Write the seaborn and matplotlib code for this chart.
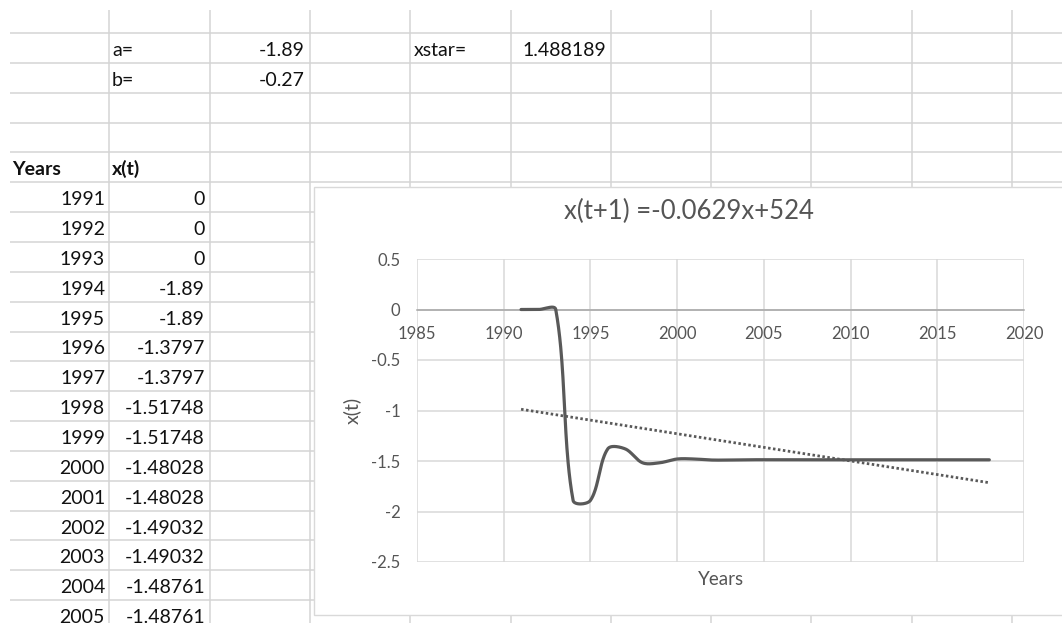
import numpy as np
import pandas as pd
import matplotlib
matplotlib.use("Agg")
import matplotlib.pyplot as plt
from matplotlib.patches import Rectangle
from matplotlib.ticker import MultipleLocator, FuncFormatter
import seaborn as sns

# ---------------- data ----------------
param_labels = ["a=", "b="]
param_values = [-1.89, -0.27]
xstar_label = "xstar="
xstar_value = 1.488189

years = [1991, 1992, 1993, 1994, 1995, 1996, 1997, 1998, 1999, 2000,
         2001, 2002, 2003, 2004, 2005, 2006, 2007, 2008, 2009, 2010,
         2011, 2012, 2013, 2014, 2015, 2016, 2017, 2018]
x_t = [0, 0, 0, -1.89, -1.89, -1.3797, -1.3797, -1.51748, -1.51748, -1.48028,
       -1.48028, -1.49032, -1.49032, -1.48761, -1.48761, -1.48834, -1.48834, -1.48815, -1.48815, -1.4882,
       -1.4882, -1.48819, -1.48819, -1.48819, -1.48819, -1.48819, -1.48819, -1.48819]

chart_title = "x(t+1) =-0.0629x+524"
x_label = "Years"
y_label = "x(t)"
col_headers = ["Years", "x(t)"]

df = pd.DataFrame({"Years": years, "x": x_t})

# ---------------- style ----------------
sns.set_theme(style="white")
plt.rcParams["font.family"] = ["Lato", "DejaVu Sans"]

W, H = 1062, 623
fig = plt.figure(figsize=(W / 100, H / 100), dpi=100)
fig.patch.set_facecolor("white")

# ---------------- spreadsheet background (pixel coordinates) ----------------
bg = fig.add_axes([0, 0, 1, 1])
bg.set_xlim(0, W)
bg.set_ylim(H, 0)
bg.axis("off")

grid_c = "#D4D4D4"
col_edges = [109, 210, 310, 410, 511, 611, 711, 811, 912, 1012]
row_h = 29.85
row_edges = [33 + row_h * k for k in range(20)]
bg.vlines(col_edges, 10, H, color=grid_c, lw=1.1, zorder=1)
bg.hlines(row_edges, 10, W, color=grid_c, lw=1.1, zorder=1)

cell_fs = 14
txt_c = "#111111"

def base(row_top):
    return row_top + 23

# parameter rows
for k, (lab, val) in enumerate(zip(param_labels, param_values)):
    top = row_edges[k]
    bg.text(112, base(top), lab, fontsize=cell_fs, color=txt_c, va="baseline", ha="left")
    bg.text(305, base(top), f"{val:g}", fontsize=cell_fs, color=txt_c, va="baseline", ha="right")
bg.text(414, base(row_edges[0]), xstar_label, fontsize=cell_fs, color=txt_c, va="baseline", ha="left")
bg.text(606, base(row_edges[0]), f"{xstar_value}", fontsize=cell_fs, color=txt_c, va="baseline", ha="right")

# header row
bg.text(12, base(row_edges[4]), col_headers[0], fontsize=cell_fs, color=txt_c, va="baseline",
        ha="left", fontweight="bold")
bg.text(112, base(row_edges[4]), col_headers[1], fontsize=cell_fs, color=txt_c, va="baseline",
        ha="left", fontweight="bold")

# data rows (only those visible on screen)
for k, (yr, v) in enumerate(zip(years, x_t)):
    top = row_edges[5] + row_h * k
    if top > H - 12:
        break
    bg.text(105, base(top), str(yr), fontsize=cell_fs, color=txt_c, va="baseline", ha="right")
    bg.text(205, base(top), f"{v:.6g}", fontsize=cell_fs, color=txt_c, va="baseline", ha="right")

# chart frame
bg.add_patch(Rectangle((314, 187), 750, 428, facecolor="white", edgecolor="#D9D9D9",
                       lw=1.0, zorder=5))

# ---------------- chart ----------------
pl, pr, pt, pb = 417, 1024, 259, 562
ax = fig.add_axes([pl / W, 1 - pb / H, (pr - pl) / W, (pb - pt) / H])
ax.set_facecolor("white")
ax.set_xlim(1985, 2020)
ax.set_ylim(-2.5, 0.5)
ax.xaxis.set_major_locator(MultipleLocator(5))
ax.yaxis.set_major_locator(MultipleLocator(0.5))
ax.yaxis.set_major_formatter(FuncFormatter(lambda v, p: f"{v:g}".replace("\u2212", "-")))
ax.grid(True, color="#D9D9D9", lw=1.1)
ax.set_axisbelow(True)
for s in ["top", "right", "left"]:
    ax.spines[s].set_visible(False)
ax.spines["bottom"].set_position(("data", 0))
ax.spines["bottom"].set_color("#A6A6A6")
ax.spines["bottom"].set_linewidth(1.1)
ax.tick_params(axis="x", length=0, pad=12, labelsize=12, labelcolor="#555555")
ax.tick_params(axis="y", length=0, pad=12, labelsize=12, labelcolor="#555555")

# smoothed line (Excel-like Bezier smoothing computed in display space)
def excel_smooth(xd, yd):
    P = ax.transData.transform(np.column_stack([xd, yd]))
    n = len(P)
    d = np.hypot(*np.diff(P, axis=0).T)
    t = np.linspace(0, 1, 40)[:, None]
    pts = []
    for i in range(n - 1):
        p_prev = P[i - 1] if i > 0 else P[i]
        p_next = P[i + 2] if i + 2 < n else P[i + 1]
        d_prev = d[i - 1] if i > 0 else 0.0
        d_next = d[i + 1] if i + 1 < n - 1 else 0.0
        di = d[i]
        c1 = P[i] + (P[i + 1] - p_prev) * di / (d_prev + di) / 3
        c2 = P[i + 1] - (p_next - P[i]) * di / (di + d_next) / 3
        B = ((1 - t) ** 3 * P[i] + 3 * (1 - t) ** 2 * t * c1
             + 3 * (1 - t) * t ** 2 * c2 + t ** 3 * P[i + 1])
        pts.append(B if i == 0 else B[1:])
    pts = np.vstack(pts)
    return ax.transData.inverted().transform(pts)

sm = excel_smooth(df["Years"].to_numpy(float), df["x"].to_numpy(float))
sns.lineplot(x=sm[:, 0], y=sm[:, 1], sort=False, estimator=None, color="#595959",
             lw=2.3, ax=ax, zorder=4)

# linear trendline
sns.regplot(data=df, x="Years", y="x", scatter=False, ci=None, truncate=True, ax=ax,
            line_kws=dict(color="#595959", lw=2.0, dashes=(0.9, 0.9), dash_capstyle="butt",
                          zorder=3))

ax.set_xlim(1985, 2020)
ax.set_ylim(-2.5, 0.5)
ax.set_xlabel(x_label, fontsize=13.5, color="#555555")
ax.set_ylabel(y_label, fontsize=14, color="#555555")
ax.xaxis.set_label_coords(0.5, -0.03)
ax.yaxis.set_label_coords(-0.092, 0.5)
ax.set_title(chart_title, fontsize=18.5, color="#555555", x=(689 - pl) / (pr - pl),
             y=(pb - 220) / (pb - pt), va="center")

fig.savefig("out.png", dpi=100, facecolor="white")
